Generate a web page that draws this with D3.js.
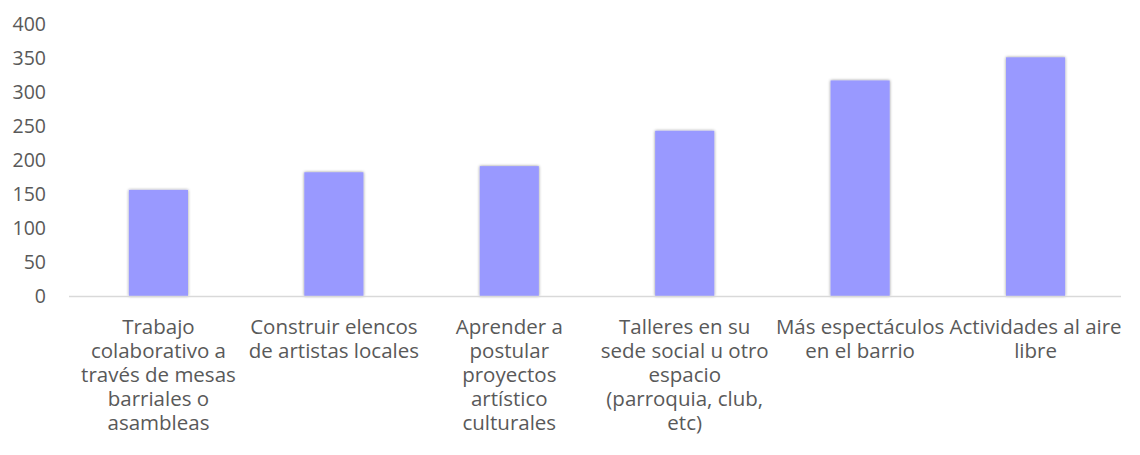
<!DOCTYPE html>
<html>
<head>
<meta charset="utf-8">
<script src="https://cdn.jsdelivr.net/npm/d3@7"></script>
<style>
  body { margin: 0; background: #fff; }
  text { font-family: "Open Sans", "Noto Sans", sans-serif; fill: #595959; }
</style>
</head>
<body>
<svg class="chart"></svg>
<script>
const width = 1140;
const height = 455;

// data
const categories = [
  "Trabajo\ncolaborativo a\ntravés de mesas\nbarriales o\nasambleas",
  "Construir elencos\nde artistas locales",
  "Aprender a\npostular\nproyectos\nartístico\nculturales",
  "Talleres en su\nsede social u otro\nespacio\n(parroquia, club,\netc)",
  "Más espectáculos\nen el barrio",
  "Actividades al aire\nlibre"
];
const values = [156, 182, 191, 243, 317, 351];
const yTicks = [0, 50, 100, 150, 200, 250, 300, 350, 400];

const margin = { top: 24, right: 19, bottom: 159, left: 69 };

const svg = d3.select('.chart')
  .attr('width', width).attr('height', height);

const defs = svg.append('defs');
const shadow = defs.append('filter').attr('id', 'shadow')
  .attr('x', '-20%').attr('y', '-10%').attr('width', '140%').attr('height', '120%');
shadow.append('feDropShadow')
  .attr('dx', 0).attr('dy', 0).attr('stdDeviation', 1.6)
  .attr('flood-color', '#000').attr('flood-opacity', 0.45);

const x = d3.scaleBand()
  .domain(d3.range(categories.length))
  .range([margin.left + 2, width - margin.right + 2])
  .paddingInner(0.663)
  .paddingOuter(0.33);

const y = d3.scaleLinear()
  .domain([0, 400])
  .range([height - margin.bottom, margin.top]);

// y axis labels only, no line
const yAxis = svg.append('g')
  .attr('transform', `translate(${margin.left - 23},0)`)
  .call(d3.axisLeft(y).tickValues(yTicks).tickSize(0).tickPadding(0));
yAxis.select('.domain').remove();
yAxis.selectAll('text')
  .style('font-size', '19.5px')
  .style('font-family', '"Open Sans", sans-serif')
  .attr('fill', '#595959');

// bars
svg.append('g').selectAll('rect')
  .data(values)
  .enter()
  .append('rect')
  .attr('x', (d, i) => x(i))
  .attr('y', d => y(d))
  .attr('width', x.bandwidth())
  .attr('height', d => y(0) - y(d))
  .attr('fill', '#9999ff')
  .attr('filter', 'url(#shadow)');

// baseline
svg.append('line')
  .attr('x1', margin.left).attr('x2', width - margin.right)
  .attr('y1', y(0) + 0.5).attr('y2', y(0) + 0.5)
  .attr('stroke', '#d9d9d9').attr('stroke-width', 1.5);

// category labels
const labels = svg.append('g').selectAll('text')
  .data(categories)
  .enter()
  .append('text')
  .attr('text-anchor', 'middle')
  .style('font-size', '20.5px')
  .attr('y', y(0) + 38);

labels.each(function (d, i) {
  const t = d3.select(this);
  d.split('\n').forEach((line, k) => {
    t.append('tspan')
      .attr('x', x(i) + x.bandwidth() / 2)
      .attr('dy', k === 0 ? 0 : 24)
      .text(line);
  });
});
</script>
</body>
</html>
